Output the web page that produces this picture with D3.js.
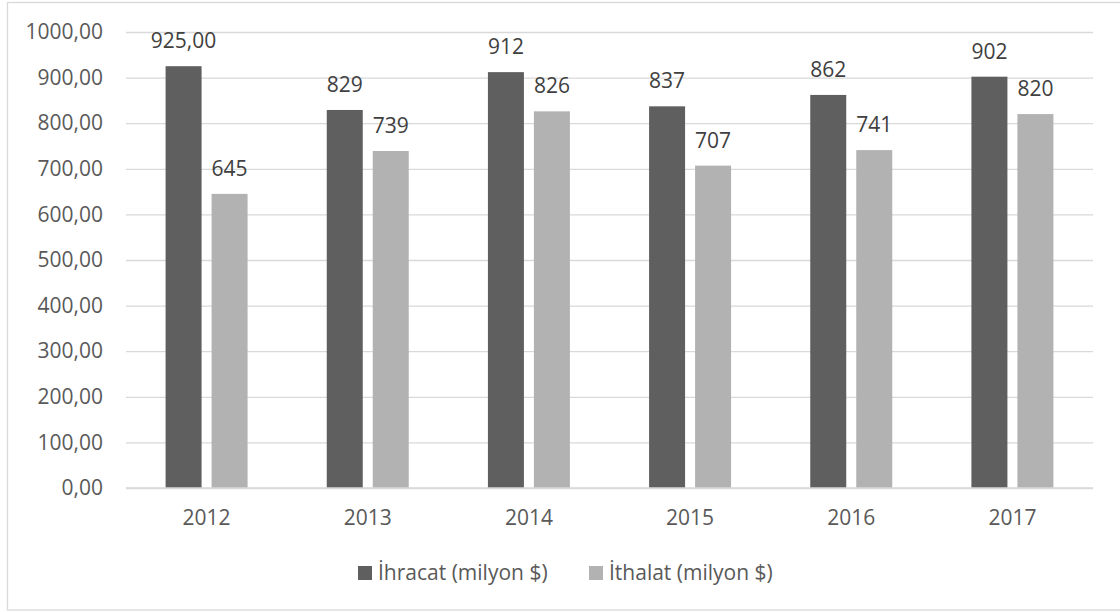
<!DOCTYPE html>
<html>
<head>
<meta charset="utf-8">
<script src="https://cdn.jsdelivr.net/npm/d3@7"></script>
<style>
  html, body { margin: 0; padding: 0; background: #fff; }
  svg { display: block; font-family: "Open Sans", sans-serif; }
</style>
</head>
<body>
<svg id="chart" width="1120" height="612"></svg>
<script>
// Yearly export / import figures (million $)
const years = ["2012", "2013", "2014", "2015", "2016", "2017"];
const exportValues = [925, 829, 912, 837, 862, 902];
const importValues = [645, 739, 826, 707, 741, 820];
const exportLabels = ["925,00", "829", "912", "837", "862", "902"];
const importLabels = ["645", "739", "826", "707", "741", "820"];
const seriesNames = ["İhracat (milyon $)", "İthalat (milyon $)"];
const yTicks = [0, 100, 200, 300, 400, 500, 600, 700, 800, 900, 1000];

const colors = ["#5f5f5f", "#b2b2b2"];
const textColor = "#595959";
const gridColor = "#d9d9d9";
const fontSize = "21px";

const svg = d3.select("#chart");
const plot = { left: 126, right: 1093, top: 32, bottom: 488 };

// outer frame
svg.append("rect")
  .attr("x", 7.5).attr("y", 2.5)
  .attr("width", 1120).attr("height", 607.5)
  .attr("fill", "#fff").attr("stroke", gridColor).attr("stroke-width", 1.3);

const x = d3.scaleBand().domain(years).range([plot.left, plot.right]).paddingInner(0).paddingOuter(0);
const y = d3.scaleLinear().domain([0, 1000]).range([plot.bottom, plot.top]);

// horizontal gridlines + y labels
const yAxis = d3.axisLeft(y).tickValues(yTicks)
  .tickFormat(d => d3.format(".2f")(d).replace(".", ","))
  .tickSize(-(plot.right - plot.left)).tickPadding(23);
const gy = svg.append("g").attr("transform", `translate(${plot.left},0)`).call(yAxis);
gy.select(".domain").remove();
gy.selectAll(".tick line").attr("stroke", gridColor).attr("stroke-width", 1.3);
gy.selectAll(".tick text").attr("fill", textColor).style("font-size", fontSize)
  .style("font-family", "'Open Sans', sans-serif");

// x labels
const xAxis = d3.axisBottom(x).tickSize(0).tickPadding(22);
const gx = svg.append("g").attr("transform", `translate(0,${plot.bottom})`).call(xAxis);
gx.select(".domain").remove();
gx.selectAll(".tick text").attr("fill", textColor).style("font-size", fontSize)
  .style("font-family", "'Open Sans', sans-serif");

// bars within each year
const barW = 36, gap = 10;
const inner = d3.scaleBand().domain([0, 1]).range([0, barW * 2 + gap]).paddingInner(gap / (barW + gap)).paddingOuter(0);
const groupOffset = (x.bandwidth() - (barW * 2 + gap)) / 2;

const series = [
  { values: exportValues, labels: exportLabels },
  { values: importValues, labels: importLabels }
];

series.forEach((s, si) => {
  const g = svg.append("g");
  g.selectAll("rect").data(years).join("rect")
    .attr("x", (d) => x(d) + groupOffset + inner(si))
    .attr("width", inner.bandwidth())
    .attr("y", (d, i) => y(s.values[i]))
    .attr("height", (d, i) => y(0) - y(s.values[i]))
    .attr("fill", colors[si]);
  g.selectAll("text").data(years).join("text")
    .attr("x", (d) => x(d) + groupOffset + inner(si) + inner.bandwidth() / 2)
    .attr("y", (d, i) => y(s.values[i]) - 18)
    .attr("text-anchor", "middle")
    .attr("fill", "#404040")
    .style("font-size", fontSize)
    .text((d, i) => s.labels[i]);
});

// baseline redraw on top
svg.append("line")
  .attr("x1", plot.left).attr("x2", plot.right)
  .attr("y1", y(0)).attr("y2", y(0))
  .attr("stroke", gridColor).attr("stroke-width", 1.3);

// legend
const legendItems = [{ x: 358, name: seriesNames[0] }, { x: 589, name: seriesNames[1] }];
const legendY = 573;
legendItems.forEach((it, i) => {
  svg.append("rect").attr("x", it.x).attr("y", legendY - 7).attr("width", 14).attr("height", 14).attr("fill", colors[i]);
  svg.append("text").attr("x", it.x + 20).attr("y", legendY).attr("dy", "0.35em")
    .attr("fill", textColor).style("font-size", fontSize).text(it.name);
});
</script>
</body>
</html>
